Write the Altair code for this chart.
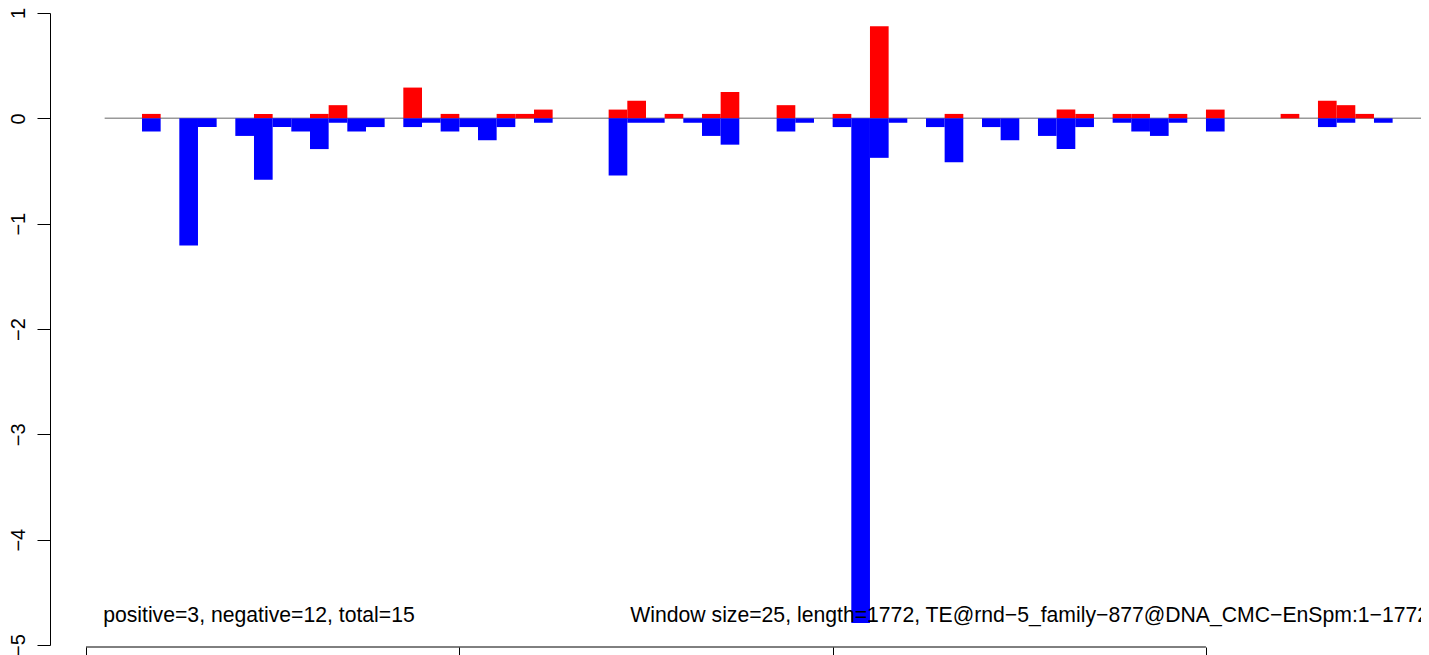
import altair as alt
import pandas as pd

WINDOW = 25
LENGTH = 1772

# window index (each window = 25 bp) and bar value
pos_windows = [3, 9, 12, 13, 17, 19, 22, 23, 24, 28, 29, 31, 33, 34, 37, 40, 42, 46,
               52, 53, 55, 56, 58, 60, 64, 66, 67, 68]
pos_values = [0.042, 0.042, 0.042, 0.125, 0.292, 0.042, 0.042, 0.042, 0.083, 0.083,
              0.167, 0.042, 0.042, 0.25, 0.125, 0.042, 0.875, 0.042, 0.083, 0.042,
              0.042, 0.042, 0.042, 0.083, 0.042, 0.167, 0.125, 0.042]

neg_windows = [3, 5, 6, 8, 9, 10, 11, 12, 13, 14, 15, 17, 18, 19, 20, 21, 22, 24, 28,
               29, 30, 32, 33, 34, 37, 38, 40, 41, 42, 43, 45, 46, 48, 49, 51, 52, 53,
               55, 56, 57, 58, 60, 66, 67, 69]
neg_values = [-0.125, -1.208, -0.083, -0.167, -0.583, -0.083, -0.125, -0.292, -0.042,
              -0.125, -0.083, -0.083, -0.042, -0.125, -0.083, -0.208, -0.083, -0.042,
              -0.542, -0.042, -0.042, -0.042, -0.167, -0.25, -0.125, -0.042, -0.083,
              -4.792, -0.375, -0.042, -0.083, -0.417, -0.083, -0.208, -0.167, -0.292,
              -0.083, -0.042, -0.125, -0.167, -0.042, -0.125, -0.083, -0.042, -0.042]

x_ticks = [0, 500, 1000, 1500]
y_ticks = [-5, -4, -3, -2, -1, 0, 1]

left_note = "positive=3, negative=12, total=15"
right_note = "Window size=25, length=1772, TE@rnd\u22125_family\u2212877@DNA_CMC\u2212EnSpm:1\u22121772"

# layout
W, H = 1371, 632
X_MIN, X_MAX = -48.2, 1788.0
FONT = "Liberation Sans"

pos_df = pd.DataFrame({"start": [w * WINDOW for w in pos_windows],
                       "end": [(w + 1) * WINDOW for w in pos_windows],
                       "z": 0.0, "v": pos_values})
neg_df = pd.DataFrame({"start": [w * WINDOW for w in neg_windows],
                       "end": [(w + 1) * WINDOW for w in neg_windows],
                       "z": 0.0, "v": neg_values})
zero_df = pd.DataFrame({"a": [WINDOW], "b": [X_MAX], "y": [0.0]})
axis_df = pd.DataFrame({"a": [min(x_ticks)], "b": [max(x_ticks)]})
text_df = pd.DataFrame({"x": [23, 729], "y": [-4.783, -4.783],
                        "t": [left_note, right_note]})

xs = alt.Scale(domain=[X_MIN, X_MAX], nice=False, zero=False)
ys = alt.Scale(domain=[-5, 1], nice=False, zero=False)

x_axis = alt.Axis(values=x_ticks, domain=False, grid=False, tickSize=13,
                  tickColor="black", labels=False, offset=2, title=None)
y_axis = alt.Axis(values=y_ticks, grid=False, domain=True, domainColor="black",
                  tickColor="black", tickSize=13, labelAngle=270,
                  labelAlign="center", labelBaseline="alphabetic",
                  labelPadding=13, labelFontSize=20, labelFont=FONT,
                  labelColor="black", title=None)

zero_line = alt.Chart(zero_df).mark_rule(color="#999999", strokeWidth=1.5, clip=True).encode(
    x=alt.X("a:Q", scale=xs, axis=x_axis), x2="b:Q",
    y=alt.Y("y:Q", scale=ys, axis=y_axis))

red = alt.Chart(pos_df).mark_rect(color="#FF0000").encode(
    x=alt.X("start:Q", scale=xs, axis=x_axis), x2="end:Q",
    y=alt.Y("z:Q", scale=ys, axis=y_axis), y2="v:Q")

blue = alt.Chart(neg_df).mark_rect(color="#0000FF").encode(
    x=alt.X("start:Q", scale=xs, axis=x_axis), x2="end:Q",
    y=alt.Y("z:Q", scale=ys, axis=y_axis), y2="v:Q")

xline = alt.Chart(axis_df).mark_rule(color="black", strokeWidth=1).encode(
    x=alt.X("a:Q", scale=xs, axis=x_axis), x2="b:Q",
    y=alt.value(H + 2))

notes = alt.Chart(text_df).mark_text(align="left", baseline="alphabetic",
                                     fontSize=21.2, font=FONT, color="black").encode(
    x=alt.X("x:Q", scale=xs, axis=x_axis),
    y=alt.Y("y:Q", scale=ys, axis=y_axis),
    text="t:N")

chart = alt.layer(zero_line, red, blue, xline, notes).properties(
    width=W, height=H,
    autosize=alt.AutoSizeParams(type="none"),
    padding={"left": 42, "top": 5, "right": 0, "bottom": 10},
    background="white",
).configure_view(stroke=None)

chart.save("out.html", embed_options={"renderer": "svg", "actions": False})
